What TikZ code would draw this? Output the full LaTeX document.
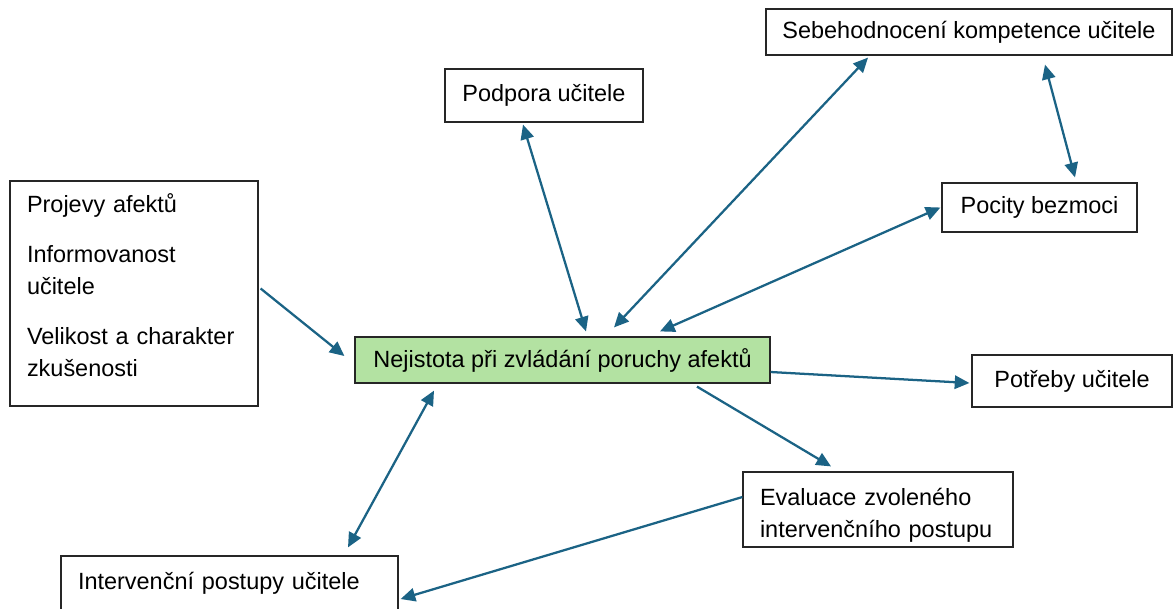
\documentclass[tikz,border=0pt]{standalone}
\usepackage{fontspec}
\setmainfont{Liberation Sans}
\usepackage{tikz}
\usetikzlibrary{arrows.meta, calc}

\definecolor{linkblue}{HTML}{1B6385}
\definecolor{boxgreen}{HTML}{B3E2A2}

\tikzset{
    box/.style={draw=black!85, line width=0.9pt, fill=white, inner ysep=0pt, inner xsep=12.75pt,
        align=center, font=\fontsize{17.6}{24}\selectfont},
    leftbox/.style={box, align=left},
    link/.style={draw=linkblue, line width=1.7pt, -{Triangle[length=11pt,width=10pt]}},
    both/.style={link, {Triangle[length=11pt,width=10pt]}-{Triangle[length=11pt,width=10pt]}}
}

\begin{document}
\begin{tikzpicture}[x=0.75pt, y=-0.75pt]
    \useasboundingbox (0,0) rectangle (1173,608);
    % Boxes
    \node[box, inner xsep=0pt, minimum width=304.5pt, minimum height=34.5pt] (sebe) at (969,32) {Sebehodnocení kompetence učitele};
    \node[box, minimum width=148.5pt, minimum height=39.75pt] (podpora) at (544,95.5) {Podpora učitele};
    \node[box, minimum width=146.25pt, minimum height=36.75pt] (pocity) at (1039.5,207.5) {Pocity bezmoci};
    \node[box, fill=boxgreen, minimum width=311.25pt, minimum height=34.5pt] (nejistota) at (562.5,360) {Nejistota při zvládání poruchy afektů};
    \node[box, minimum width=150pt, minimum height=39pt] (potreby) at (1072,381) {Potřeby učitele};
    \node[leftbox, text width=227.25pt, minimum height=40.5pt] (intervence) at (229.5,583) {Intervenční postupy učitele};
    \node[leftbox, text width=177pt, minimum height=56.25pt] (evaluace) at (878,509.5)
        {\rule{0pt}{22pt}Evaluace zvoleného\\ intervenčního postupu};
    \node[leftbox, text width=160.5pt, minimum height=168.75pt] (faktory) at (134,293.5)
        {Projevy afektů\\[13.5pt] Informovanost\\ učitele\\[13.5pt] Velikost a charakter\\ zkušenosti\\[-12pt]\mbox{}};
    % Links
    \draw[link] ($(faktory.east)+(2,-5)$) -- ($(nejistota.west)+(-10,-4)$);
    \draw[both] ($(podpora.south)+(-21,2)$) -- ($(nejistota.north)+(23.5,-5)$);
    \draw[both] ($(sebe.south)+(-101,2)$) -- ($(nejistota.north)+(51.5,-9)$);
    \draw[both] ($(sebe.south)+(76,9)$) -- ($(pocity.north)+(35.5,-5)$);
    \draw[both] ($(pocity.west)+(-1,0)$) -- ($(nejistota.north)+(97.5,-5)$);
    \draw[link] ($(nejistota.east)+(0,12)$) -- ($(potreby.west)+(-2,2)$);
    \draw[link] ($(nejistota.south)+(134.5,3)$) -- ($(evaluace.north)+(-47,-5)$);
    \draw[both] ($(nejistota.south)+(-128.5,7)$) -- ($(intervence.north)+(118.5,-8)$);
    \draw[link] ($(evaluace.west)+(0,-12.5)$) -- ($(intervence.east)+(2,16)$);
\end{tikzpicture}
\end{document}
